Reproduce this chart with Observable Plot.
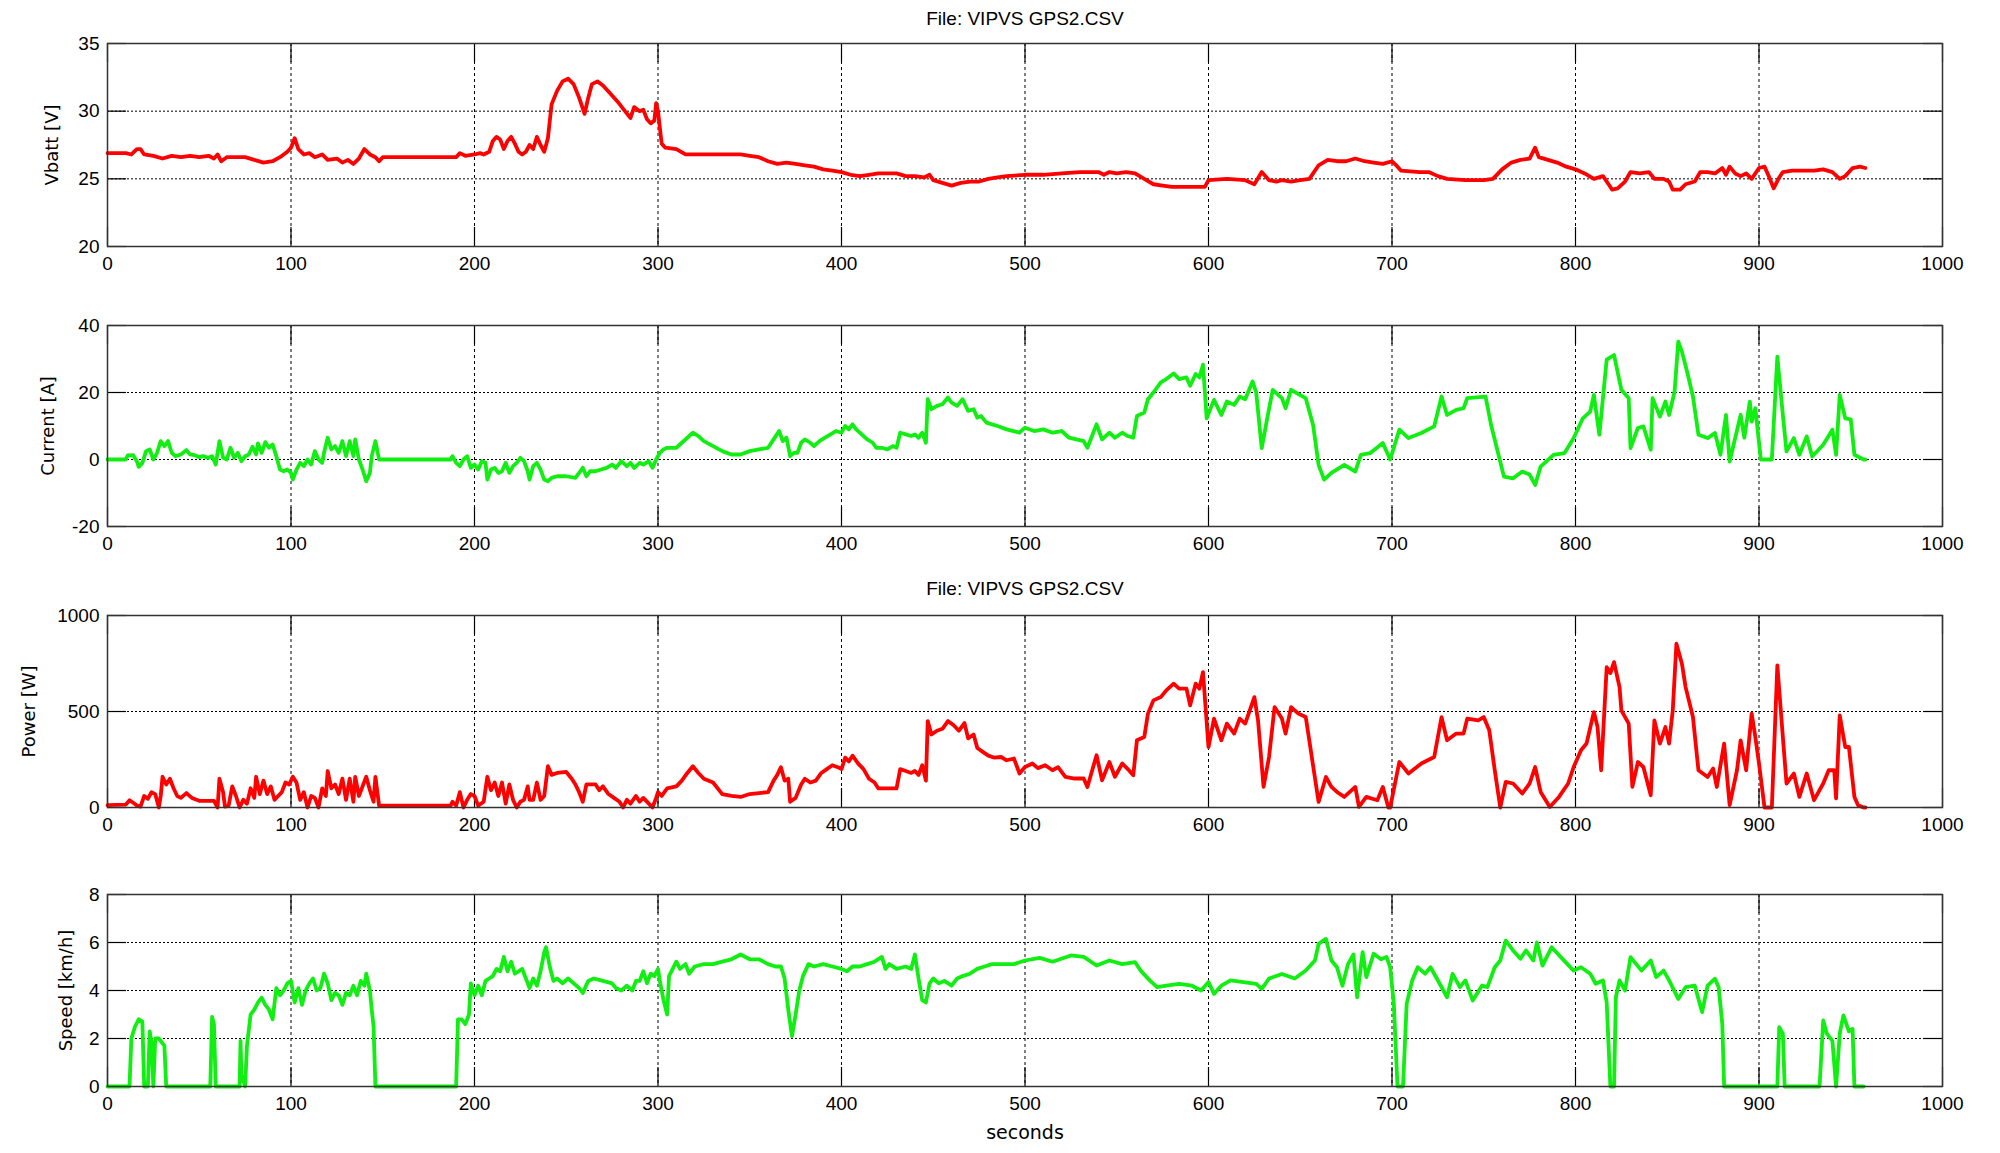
<!DOCTYPE html>
<html>
<head>
<meta charset="utf-8">
<script src="https://cdn.jsdelivr.net/npm/d3@7"></script>
<script src="https://cdn.jsdelivr.net/npm/@observablehq/plot@0.6"></script>
<style>
  html, body { margin: 0; padding: 0; background: #fff; }
  #chart { width: 2000px; height: 1153px; overflow: hidden; }
  #chart svg { display: block; }
</style>
</head>
<body>
<div id="chart"></div>
<script>
// ---------- data (seconds, value) ----------
const fileTitle = "File: VIPVS GPS2.CSV";
const xLabel = "seconds";
const xTicks = [0, 100, 200, 300, 400, 500, 600, 700, 800, 900, 1000];

const vbattTicks = [20, 25, 30, 35];
const currentTicks = [-20, 0, 20, 40];
const powerTicks = [0, 500, 1000];
const speedTicks = [0, 2, 4, 6, 8];

const vbatt = [[0,26.9],[10,26.9],[13,26.8],[16,27.2],[18,27.2],[20,26.8],[25,26.7],[30,26.5],[35,26.7],[40,26.6],[45,26.7],[50,26.6],[55,26.7],[58,26.5],[60,26.8],[62,26.3],[65,26.6],[70,26.6],[75,26.6],[80,26.4],[85,26.2],[90,26.3],[94,26.6],[98,27.0],[100,27.3],[102,28.0],[104,27.2],[107,26.8],[110,26.9],[113,26.6],[117,26.8],[120,26.4],[125,26.5],[128,26.2],[131,26.4],[134,26.1],[137,26.5],[140,27.2],[143,26.8],[146,26.6],[148,26.3],[150,26.6],[188,26.6],[190,26.6],[192,26.9],[195,26.7],[200,26.8],[203,26.9],[205,26.8],[208,27.0],[210,27.8],[212,28.1],[214,27.9],[216,27.2],[218,27.8],[220,28.1],[222,27.6],[224,27.0],[226,26.8],[228,27.0],[230,27.5],[232,27.2],[234,28.1],[236,27.5],[238,27.0],[240,28.0],[242,30.5],[245,31.5],[248,32.2],[251,32.4],[254,32.0],[257,31.0],[260,29.8],[262,31.0],[264,32.0],[267,32.2],[270,31.9],[274,31.3],[278,30.7],[282,30.0],[285,29.5],[287,30.3],[290,30.0],[292,30.1],[294,29.4],[296,29.1],[298,29.3],[299,30.6],[300,30.0],[302,27.6],[304,27.3],[310,27.2],[315,26.8],[345,26.8],[350,26.7],[355,26.6],[360,26.3],[365,26.1],[370,26.2],[375,26.1],[380,26.0],[385,25.9],[390,25.7],[395,25.6],[400,25.5],[405,25.3],[410,25.2],[415,25.3],[420,25.4],[430,25.4],[435,25.2],[440,25.2],[445,25.1],[448,25.3],[450,24.9],[455,24.7],[460,24.5],[465,24.7],[470,24.8],[475,24.8],[480,25.0],[485,25.1],[490,25.2],[500,25.3],[510,25.3],[520,25.4],[530,25.5],[540,25.5],[543,25.3],[546,25.5],[550,25.4],[555,25.5],[560,25.4],[565,25.0],[570,24.6],[575,24.5],[580,24.4],[598,24.4],[600,24.9],[610,25.0],[620,24.9],[625,24.6],[629,25.5],[633,24.9],[637,24.8],[640,24.9],[645,24.8],[650,24.9],[655,25.0],[660,26.0],[665,26.4],[670,26.3],[675,26.3],[680,26.5],[685,26.3],[690,26.2],[695,26.1],[700,26.3],[703,25.9],[705,25.6],[715,25.5],[720,25.5],[725,25.2],[730,25.0],[740,24.9],[750,24.9],[755,25.0],[760,25.7],[765,26.2],[770,26.4],[775,26.5],[778,27.3],[780,26.6],[785,26.4],[790,26.2],[795,25.9],[800,25.7],[805,25.4],[810,25.0],[815,25.2],[818,24.6],[820,24.2],[823,24.3],[827,24.8],[830,25.5],[835,25.4],[840,25.5],[843,25.0],[848,25.0],[851,24.8],[853,24.2],[857,24.2],[860,24.6],[865,24.8],[868,25.5],[872,25.5],[876,25.4],[880,25.8],[882,25.3],[884,25.9],[887,25.4],[890,25.2],[893,25.4],[896,25.0],[900,25.8],[903,25.9],[905,25.3],[908,24.3],[911,25.1],[913,25.5],[918,25.6],[930,25.6],[935,25.7],[940,25.5],[944,25.0],[947,25.2],[951,25.8],[955,25.9],[958,25.8]];

const current = [[0,0],[10,0],[11,1.2],[14,1.3],[16,-0.5],[17,-2.2],[19,-1.0],[21,2.5],[23,3.0],[25,0],[27,2.0],[29,5.5],[31,4.0],[33,5.5],[35,2],[37,1],[40,1.5],[43,2.8],[45,1.5],[48,1.2],[50,0.7],[52,1.0],[55,0.5],[57,1],[59,-1.5],[61,5.5],[63,0.5],[65,0],[67,3.5],[69,0.5],[71,2.0],[73,-0.5],[75,1],[77,1.5],[79,3.8],[81,1.5],[82,4.8],[84,2],[86,5.2],[88,3.5],[90,4.5],[92,1],[94,-3],[96,-3.5],[98,-3],[100,-4],[101,-6],[103,-3],[105,-1],[107,-2],[109,0],[111,-1.5],[113,2.5],[115,0],[117,-1],[118,2],[120,6.5],[122,3],[124,4],[126,2],[128,5.5],[130,1],[132,5.5],[134,1],[135,6],[137,0],[139,-3],[141,-6.5],[143,-4],[144,1],[146,5.5],[148,0],[187,0],[188,1],[190,-1],[192,-2],[194,0],[196,1],[198,-2.5],[200,-1.5],[202,-3],[204,-0.5],[206,-1],[207,-6],[209,-3],[211,-2.5],[213,-4],[215,-3.5],[217,-1],[219,-4],[221,-2],[223,-1],[225,0.5],[227,-0.5],[229,-3.5],[230,-6],[232,-2],[234,-1],[236,-3],[238,-6],[240,-6.5],[242,-5.5],[245,-5],[250,-5],[255,-5.5],[257,-4],[259,-2.5],[261,-5],[263,-3.5],[266,-3.5],[269,-3],[272,-2.5],[275,-1.5],[277,-2.5],[280,-0.5],[283,-2],[285,-1],[287,-2.5],[290,-1],[292,-1.5],[295,-0.5],[297,-2.5],[299,0],[301,2],[303,3],[305,3.5],[310,3.5],[313,5],[316,6.5],[319,8],[322,7],[325,5.5],[330,4],[335,2.5],[340,1.5],[345,1.5],[350,2.5],[355,3],[360,3.5],[363,6],[366,8.5],[368,5.5],[370,6.5],[372,1],[374,2],[376,2],[378,5],[380,6],[383,5],[385,4],[388,5.5],[391,6.5],[394,7.5],[397,8.5],[400,8],[402,10],[404,9],[406,10.5],[408,9],[411,7.5],[414,6],[417,5],[419,3.5],[422,3.5],[425,3],[428,4],[430,3.5],[432,8],[435,7.5],[438,7],[440,7.5],[442,6.5],[444,8],[446,5],[447,18],[449,15],[452,16],[455,16.5],[458,18.5],[460,17],[463,16],[466,18],[469,14.5],[472,15],[474,12.5],[476,13],[479,11],[482,10.5],[485,10],[490,9],[497,8],[500,9.5],[505,8.5],[510,9],[515,8],[520,8.5],[524,6.5],[528,6],[532,5.5],[534,3.5],[539,10.5],[542,6],[546,8],[549,6.5],[553,8],[556,7],[559,6.5],[561,13],[565,14],[567,18],[570,20],[574,23],[577,24],[581,25.7],[584,24],[588,24.5],[590,22],[593,25.5],[595,24.5],[597,28.3],[599,12.3],[603,17.8],[607,13.3],[610,17.3],[614,16.3],[617,18.8],[620,18],[624,23.3],[626,20],[629,3.4],[632,12.3],[635,20.8],[640,18.3],[642,15.3],[645,20.8],[649,19.5],[653,18.3],[657,10.3],[660,-1.6],[663,-6],[667,-4],[674,-1.6],[680,-3.6],[683,1.4],[688,1.9],[695,4.9],[699,0],[704,8.9],[709,6.4],[716,7.9],[723,9.9],[727,18.8],[730,13.3],[735,14.8],[739,15.3],[741,18.3],[751,18.8],[754,10.3],[761,-5.1],[766,-5.6],[771,-3.6],[775,-4.5],[778,-7.6],[781,-2.1],[788,1.4],[794,1.9],[799,6.4],[804,12.3],[808,14.3],[810,19.3],[813,7.4],[817,29.8],[821,31.2],[825,20.8],[829,18.3],[830,3.4],[834,9.4],[837,9.9],[841,2.9],[842,18.3],[846,12.8],[849,17.3],[851,13.3],[854,20.3],[856,35.2],[858,32.2],[861,25.8],[864,18.8],[867,7.4],[872,6.4],[876,7.9],[879,1.4],[882,13.3],[884,-0.6],[890,13.3],[892,6.5],[895,17.3],[896,11.3],[898,15.3],[901,0],[907,0],[910,30.7],[913,13.3],[915,2.4],[919,6.4],[922,1.4],[926,6.9],[929,0.9],[935,4.4],[940,8.9],[942,1.4],[944,19.3],[947,12.3],[950,12],[952,1.4],[957,0],[958,0]];

const power = [[0,12],[10,15],[12,38],[14,25],[16,10],[18,5],[20,60],[22,45],[24,80],[26,70],[28,0],[29,60],[30,160],[32,120],[34,150],[36,100],[38,60],[40,50],[43,75],[46,50],[50,35],[58,35],[60,0],[61,150],[63,80],[64,5],[66,10],[68,110],[70,60],[72,0],[74,40],[76,20],[78,100],[80,50],[81,160],[83,70],[85,140],[87,70],[89,110],[91,40],[93,60],[95,80],[97,130],[99,120],[101,160],[103,130],[105,40],[107,80],[109,0],[111,60],[113,50],[115,0],[117,100],[119,60],[120,190],[122,100],[124,120],[126,70],[128,150],[130,40],[132,150],[134,30],[135,160],[137,60],[139,110],[141,160],[143,90],[145,30],[146,160],[148,10],[187,10],[188,30],[190,10],[192,80],[194,0],[196,40],[198,70],[200,60],[202,10],[205,30],[207,160],[209,90],[211,130],[213,60],[215,130],[217,20],[219,120],[221,40],[223,0],[225,30],[227,40],[229,110],[230,40],[232,40],[234,130],[236,40],[238,60],[240,215],[242,170],[245,180],[250,185],[253,150],[255,120],[257,80],[259,30],[261,120],[263,120],[266,120],[268,90],[270,110],[273,70],[276,50],[279,30],[281,0],[283,40],[285,20],[288,60],[290,30],[292,50],[295,20],[297,0],[299,50],[300,80],[302,60],[305,100],[310,110],[313,140],[316,180],[319,215],[322,180],[325,150],[330,130],[335,70],[340,60],[345,55],[350,70],[355,75],[360,80],[363,140],[365,170],[367,210],[369,140],[371,150],[372,30],[375,50],[378,120],[380,150],[383,130],[386,140],[389,180],[392,200],[395,220],[398,210],[400,200],[402,260],[404,240],[406,270],[409,230],[412,200],[415,150],[418,130],[420,100],[430,100],[432,200],[435,190],[438,180],[440,190],[442,170],[444,220],[446,140],[447,450],[449,380],[452,400],[455,410],[458,450],[461,430],[464,400],[467,440],[469,360],[472,380],[474,310],[477,290],[480,270],[483,260],[487,263],[490,246],[494,255],[497,177],[500,211],[504,229],[507,205],[511,220],[515,194],[518,210],[522,159],[527,151],[532,151],[534,107],[539,272],[542,142],[546,237],[549,160],[553,229],[556,200],[559,168],[561,350],[565,367],[567,489],[570,558],[574,575],[577,610],[581,645],[584,619],[588,619],[590,532],[593,645],[595,619],[597,705],[600,315],[603,463],[607,350],[610,437],[614,385],[617,463],[620,437],[625,575],[627,454],[630,107],[633,263],[636,523],[640,463],[642,385],[645,523],[649,489],[653,471],[656,281],[660,29],[664,159],[667,107],[670,81],[674,55],[680,107],[682,3],[686,55],[692,38],[695,107],[698,0],[699,0],[704,237],[709,177],[716,229],[723,263],[727,471],[730,350],[735,385],[739,385],[741,463],[747,454],[750,471],[753,402],[756,194],[759,0],[762,133],[766,125],[771,73],[775,125],[778,211],[781,81],[786,3],[791,55],[796,125],[799,211],[803,298],[806,333],[810,497],[812,420],[814,194],[817,731],[819,700],[821,757],[824,627],[825,506],[829,437],[831,107],[834,237],[837,211],[841,64],[843,454],[846,333],[849,419],[851,333],[853,506],[855,853],[858,749],[860,627],[864,471],[867,194],[872,159],[875,203],[877,107],[881,333],[884,12],[888,194],[890,350],[893,194],[896,489],[898,367],[900,229],[903,0],[907,0],[910,740],[913,367],[915,125],[919,177],[922,55],[926,177],[930,38],[935,125],[938,194],[941,194],[942,47],[944,480],[947,315],[949,315],[952,55],[954,12],[957,0],[958,0]];

const speed = [[0,0],[12,0],[13,2.0],[15,2.5],[17,2.8],[19,2.7],[20,0],[22,0],[23,2.3],[24,1.8],[25,0],[26,2.0],[28,2.0],[30,1.8],[31,1.7],[32,0],[56,0],[57,2.9],[58,2.6],[59,0],[72,0],[72.5,1.9],[73,0.5],[75,0],[76,1.7],[78,3.0],[80,3.2],[82,3.5],[84,3.7],[86,3.4],[88,3.2],[90,2.8],[92,4.1],[94,3.8],[96,4.0],[98,4.3],[100,4.4],[102,3.5],[104,4.1],[106,3.4],[108,4.0],[110,4.3],[112,4.5],[114,4.0],[116,4.1],[118,4.7],[120,4.3],[122,3.6],[124,3.9],[126,3.8],[128,3.4],[130,3.9],[132,3.8],[134,4.2],[136,3.8],[138,4.4],[140,4.2],[141,4.7],[143,4.0],[144,3.2],[145,2.5],[146,0],[190,0],[191,2.8],[193,2.8],[195,2.6],[197,3.0],[198,4.3],[200,3.8],[202,4.2],[204,3.8],[206,4.4],[208,4.5],[210,4.6],[212,4.9],[214,4.8],[216,5.4],[218,4.8],[220,5.2],[222,4.7],[224,4.8],[226,4.9],[228,4.5],[230,4.1],[232,4.5],[234,4.2],[236,4.8],[238,5.6],[239,5.8],[241,5.0],[243,4.4],[245,4.5],[248,4.3],[251,4.5],[254,4.3],[257,4.1],[259,3.9],[262,4.4],[265,4.5],[270,4.4],[275,4.3],[277,4.1],[280,4.0],[283,4.2],[286,4.0],[288,4.4],[290,4.4],[292,4.8],[294,4.3],[296,4.7],[298,4.6],[300,4.9],[301,4.4],[303,3.6],[305,3.0],[306,4.6],[308,4.9],[310,5.2],[312,4.9],[315,5.1],[317,4.7],[320,5.0],[325,5.1],[330,5.1],[335,5.2],[340,5.3],[345,5.5],[350,5.3],[355,5.3],[360,5.1],[364,5.0],[367,5.0],[369,4.5],[371,3.2],[373,2.1],[375,3.0],[377,4.0],[379,4.6],[382,5.1],[385,5.0],[390,5.1],[395,5.0],[400,4.9],[403,4.8],[406,5.0],[410,5.0],[414,5.1],[418,5.2],[422,5.4],[424,4.9],[426,5.1],[430,4.9],[435,5.0],[438,4.9],[440,5.5],[442,4.5],[444,3.6],[446,3.5],[448,4.3],[450,4.5],[453,4.3],[456,4.4],[460,4.2],[463,4.5],[466,4.6],[470,4.7],[474,4.9],[478,5.0],[482,5.1],[487,5.1],[494,5.1],[500,5.25],[508,5.36],[515,5.2],[525,5.46],[532,5.4],[539,5.04],[546,5.25],[553,5.1],[560,5.18],[563,4.83],[568,4.42],[572,4.14],[577,4.2],[584,4.28],[591,4.2],[596,4.0],[600,4.35],[603,3.86],[607,4.2],[612,4.42],[619,4.35],[626,4.28],[629,4.07],[633,4.5],[640,4.69],[647,4.5],[653,4.83],[658,5.25],[660,5.94],[664,6.15],[667,5.25],[670,4.97],[673,4.2],[676,5.1],[679,5.5],[681,3.72],[684,5.6],[686,4.56],[690,5.53],[694,5.3],[697,5.4],[699,4.97],[701,3.44],[703,0],[706,0],[708,3.44],[711,4.42],[714,4.97],[718,4.7],[721,4.97],[726,4.28],[730,3.72],[733,4.69],[737,4.14],[740,4.42],[744,3.58],[749,4.2],[752,4.14],[756,4.97],[759,5.25],[762,6.08],[766,5.67],[770,5.32],[773,5.67],[777,5.25],[779,6.0],[782,5.04],[787,5.8],[792,5.39],[799,4.83],[803,4.97],[808,4.7],[811,4.28],[815,4.42],[817,3.5],[819,0],[821,0],[822,3.72],[824,4.42],[827,4.0],[830,5.39],[836,4.83],[841,5.25],[844,4.56],[848,4.83],[851,4.42],[856,3.65],[860,4.14],[865,4.2],[869,3.1],[872,4.2],[876,4.49],[878,4.14],[880,2.6],[881,0],[910,0],[911,2.47],[913,2.2],[914,0],[933,0],[935,2.75],[937,2.2],[940,1.9],[942,0],[944,2.2],[946,2.96],[949,2.3],[951,2.4],[952,0],[957,0]];

// ---------- styling / layout ----------
const RED = "#ff0000";
const GREEN = "#11ee11";
const TICK_FONT = '"Liberation Sans", Arial, Helvetica, sans-serif';
const LABEL_FONT = '"DejaVu Sans", Verdana, sans-serif';
const W = 2000, ML = 107, MR = 58, TICKLEN = 19;
const plainFormat = (d) => String(d);

function panel(o) {
  const innerH = o.height - o.mt - o.mb;
  const innerW = W - ML - MR;
  const rows = o.data.map(([t, v]) => ({t, v}));
  const marks = [
    Plot.ruleX(xTicks.slice(1, -1), {stroke: "#000", strokeWidth: 1, strokeDasharray: "3,3"}),
    Plot.ruleY(o.yTicks.slice(1, -1), {stroke: "#000", strokeWidth: 1, strokeDasharray: "2,2"}),
    Plot.ruleX(xTicks, {insetTop: innerH - TICKLEN, stroke: "#000", strokeWidth: 1.2}),
    Plot.ruleX(xTicks, {insetBottom: innerH - TICKLEN, stroke: "#000", strokeWidth: 1.2}),
    Plot.ruleY(o.yTicks, {insetRight: innerW - TICKLEN, stroke: "#000", strokeWidth: 1.2}),
    Plot.ruleY(o.yTicks, {insetLeft: innerW - TICKLEN, stroke: "#000", strokeWidth: 1.2}),
    Plot.line(rows, {x: "t", y: "v", stroke: o.color, strokeWidth: 3.8, strokeLinejoin: "round", strokeLinecap: "round"}),
    Plot.frame({stroke: "#333", strokeWidth: 1.5}),
    Plot.axisX(xTicks, {tickSize: 0, tickPadding: 10, label: null, tickFormat: plainFormat, fontSize: 19, fontFamily: TICK_FONT}),
    Plot.axisY(o.yTicks, {tickSize: 0, tickPadding: 8, label: null, tickFormat: plainFormat, fontSize: 19, fontFamily: TICK_FONT}),
    Plot.text([o.label], {frameAnchor: "left", rotate: -90, dx: o.labelX - ML, textAnchor: "middle", lineAnchor: "middle", fontFamily: LABEL_FONT, fontSize: 18, fill: "#000"})
  ];
  if (o.title) {
    marks.push(Plot.text([o.title], {frameAnchor: "top", dy: o.titleY - o.mt, lineAnchor: "middle", fontFamily: TICK_FONT, fontSize: 19, fill: "#000"}));
  }
  if (o.xlabel) {
    marks.push(Plot.text([o.xlabel], {frameAnchor: "bottom", dy: o.xlabelY, lineAnchor: "middle", fontFamily: LABEL_FONT, fontSize: 19, fill: "#000"}));
  }
  return Plot.plot({
    width: W,
    height: o.height,
    marginLeft: ML,
    marginRight: MR,
    marginTop: o.mt,
    marginBottom: o.mb,
    style: {fontFamily: TICK_FONT, fontSize: "19px", color: "#000", background: "#fff", overflow: "visible"},
    x: {domain: [0, 1000]},
    y: {domain: o.yDomain},
    marks
  });
}

const root = document.getElementById("chart");
root.append(panel({data: vbatt, color: RED, yDomain: [20, 35], yTicks: vbattTicks, label: "Vbatt [V]", labelX: 52, height: 290, mt: 43, mb: 44, title: fileTitle, titleY: 18}));
root.append(panel({data: current, color: GREEN, yDomain: [-20, 40], yTicks: currentTicks, label: "Current [A]", labelX: 48, height: 280, mt: 35, mb: 44}));
root.append(panel({data: power, color: RED, yDomain: [0, 1000], yTicks: powerTicks, label: "Power [W]", labelX: 29, height: 280, mt: 45, mb: 43, title: fileTitle, titleY: 18}));
root.append(panel({data: speed, color: GREEN, yDomain: [0, 8], yTicks: speedTicks, label: "Speed [km/h]", labelX: 66, height: 303, mt: 44, mb: 67, xlabel: xLabel, xlabelY: 46}));
</script>
</body>
</html>
